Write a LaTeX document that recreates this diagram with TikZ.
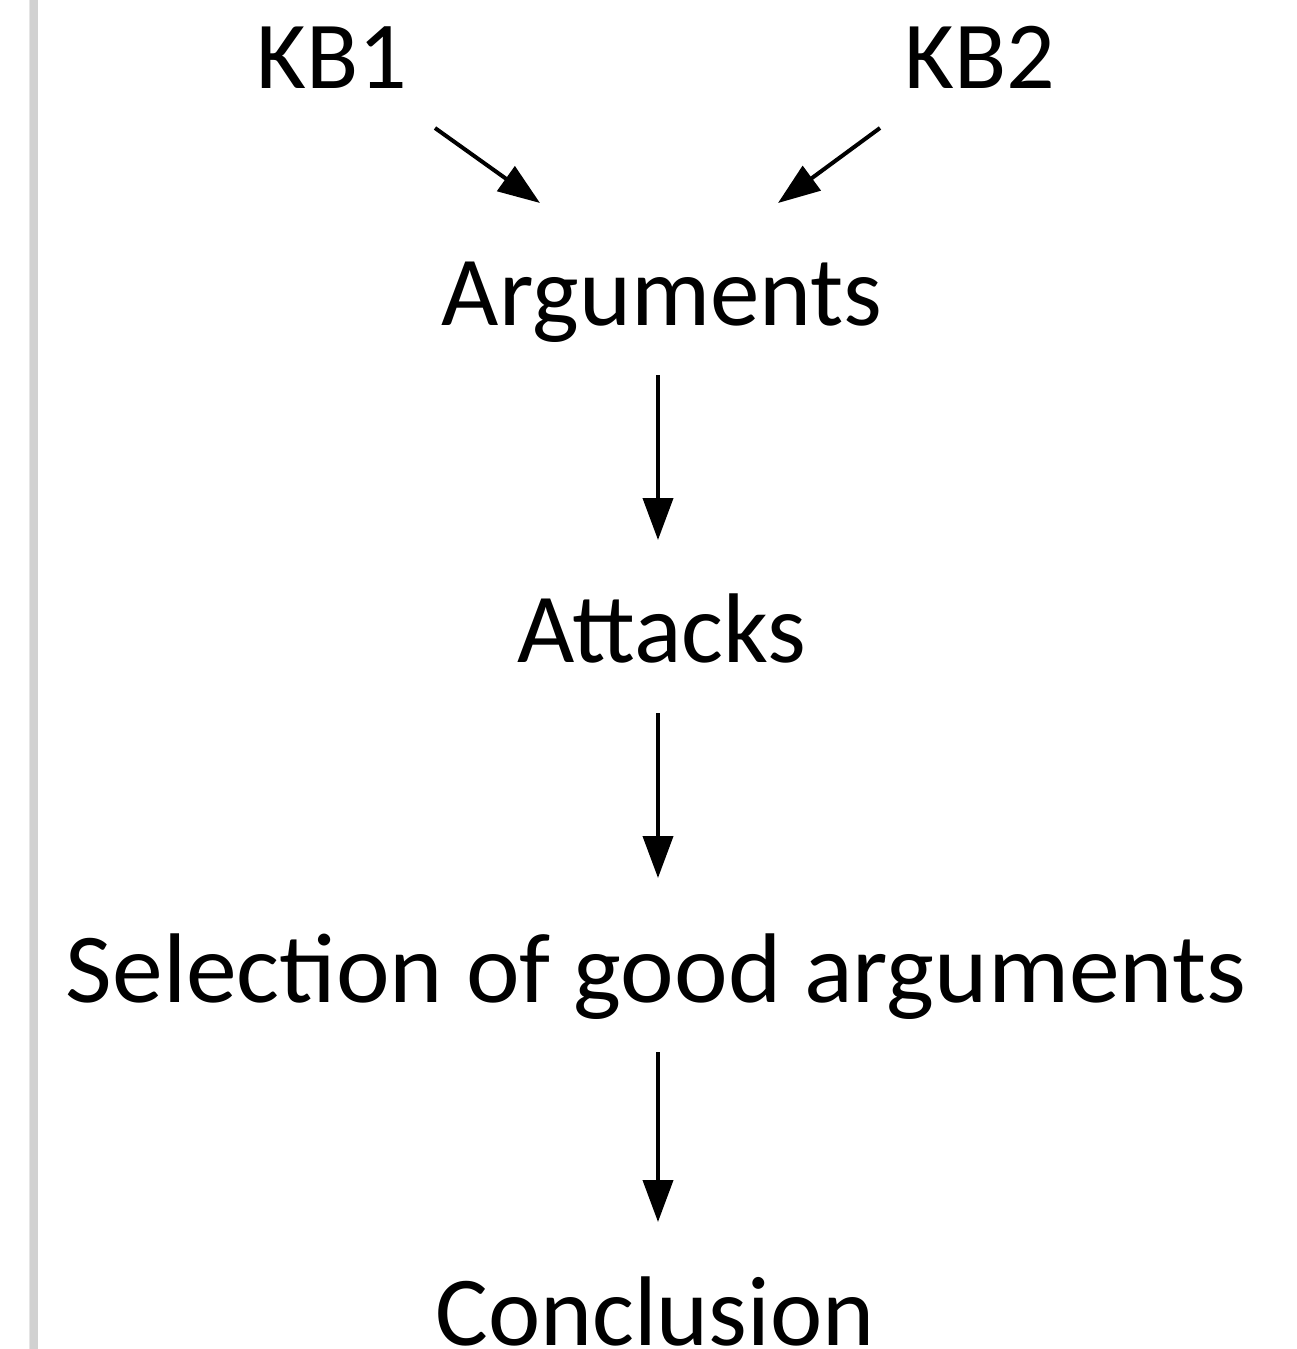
\documentclass[tikz,border=0pt]{standalone}
\usepackage{fontspec}
\setmainfont{Carlito}
\usetikzlibrary{arrows.meta,calc}
\begin{document}
\begin{tikzpicture}[x=1pt,y=-1pt,
  lbl/.style={inner sep=0pt,anchor=base,font=\fontsize{99}{110}\selectfont},
  kb/.style={inner sep=0pt,anchor=base,font=\fontsize{96}{110}\selectfont},
  arr/.style={line width=4pt,-{Triangle[length=42pt,width=30pt]}}]
\useasboundingbox (0,0) rectangle (1296,1349);
\fill[white] (0,0) rectangle (1296,1349);
\fill[black!18] (30,0) rectangle (38,1349);
\fill[black!10] (29,0) rectangle (30,1349);
\node[kb] (kb1) at (332,88) {KB1};
\node[kb] (kb2) at (980,88) {KB2};
\node[lbl] (arg) at (662,325) {Arguments};
\node[lbl] (att) at (662,662) {Attacks};
\node[lbl,xscale=1.026] (sel) at (656,1002) {Selection of good arguments};
\node[lbl] (con) at (655,1345) {Conclusion};
\draw[arr] ($(kb1.base)+(103,40)$) -- ($(arg.base)+(-122,-122)$);
\draw[arr] ($(kb2.base)+(-100,40)$) -- ($(arg.base)+(116,-122)$);
\draw[arr] ($(arg.base)+(-4,50)$) -- ($(att.base)+(-4,-122)$);
\draw[arr] ($(att.base)+(-4,51)$) -- ($(sel.base)+(2,-124)$);
\draw[arr] ($(sel.base)+(2,50)$) -- ($(con.base)+(3,-123)$);
\end{tikzpicture}
\end{document}
